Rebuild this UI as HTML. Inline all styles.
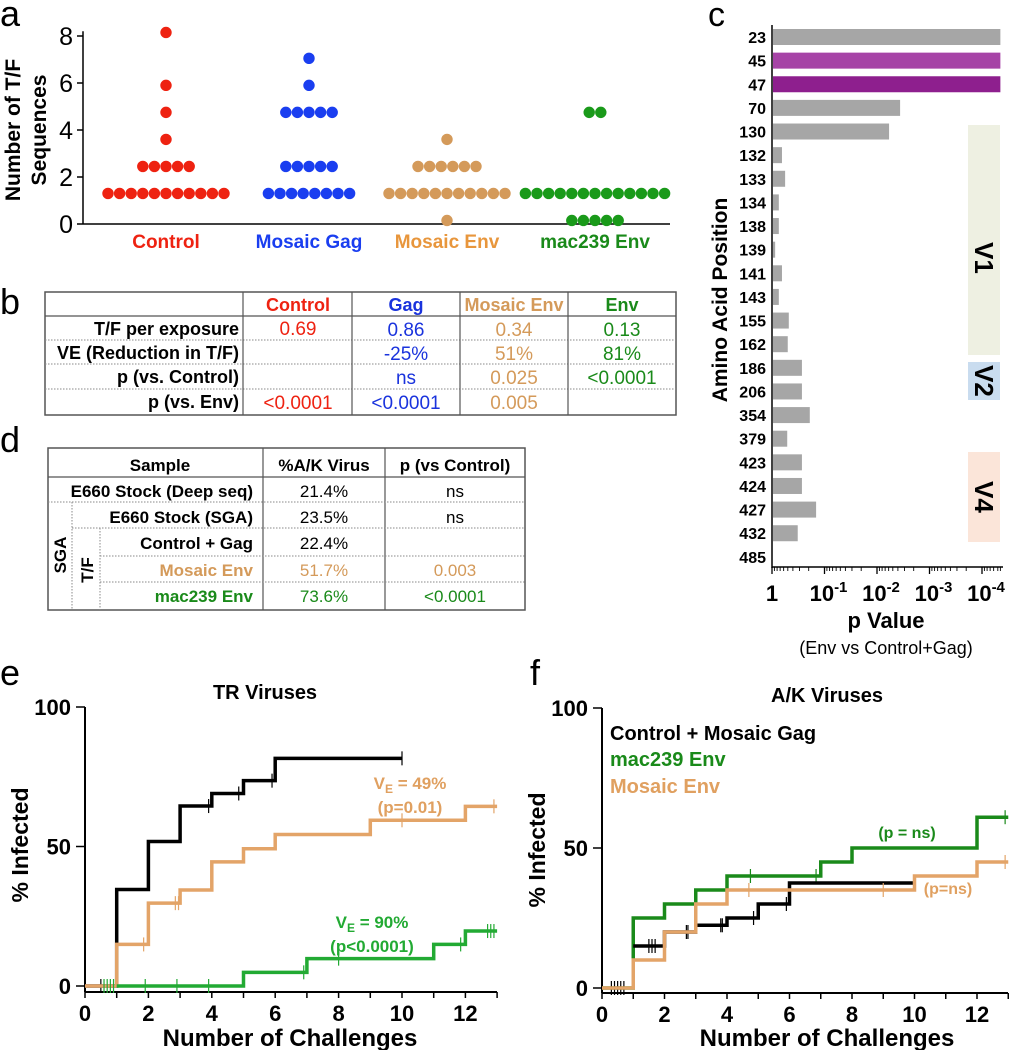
<!DOCTYPE html>
<html><head><meta charset="utf-8">
<style>
html,body{margin:0;padding:0;background:#fff;}
svg{display:block;font-family:"Liberation Sans",Arial,sans-serif;}
.b{font-weight:bold;}
.nar{font-family:"Liberation Sans Narrow","Liberation Sans",sans-serif;}
</style></head>
<body>
<svg id="fig" width="1010" height="1050" viewBox="0 0 1010 1050" xmlns="http://www.w3.org/2000/svg">
<rect width="1010" height="1050" fill="#fff"/>
<text x="0" y="26" font-size="36">a</text>
<text x="0" y="314" font-size="36">b</text>
<text x="708" y="26" font-size="34">c</text>
<text x="0" y="452" font-size="36">d</text>
<text x="0" y="685" font-size="36">e</text>
<text x="530" y="685" font-size="36">f</text>

<g id="pa">
<text transform="translate(20,130) rotate(-90)" text-anchor="middle" font-size="21" class="b">Number of T/F</text>
<text transform="translate(46,130) rotate(-90)" text-anchor="middle" font-size="21" class="b">Sequences</text>
</g>

<g>
<rect x="45" y="292" width="631" height="123" fill="none" stroke="#555" stroke-width="1.5"/>
<line x1="45" y1="316" x2="676" y2="316" stroke="#555" stroke-width="1.2"/>
<g stroke="#888" stroke-width="1" stroke-dasharray="1.5,1.5">
<line x1="45" y1="340" x2="676" y2="340"/><line x1="45" y1="364" x2="676" y2="364"/><line x1="45" y1="389" x2="676" y2="389"/>
</g>
<g stroke="#555" stroke-width="1.2">
<line x1="243" y1="292" x2="243" y2="415"/><line x1="352" y1="292" x2="352" y2="415"/><line x1="460" y1="292" x2="460" y2="415"/><line x1="568" y1="292" x2="568" y2="415"/>
</g>
<g class="b nar" text-anchor="middle" font-size="18">
<text x="298" y="311" fill="#ee2211">Control</text>
<text x="406" y="311" fill="#1a33dd">Gag</text>
<text x="514" y="311" fill="#d49a5a">Mosaic Env</text>
<text x="622" y="311" fill="#1a8a1a">Env</text>
</g>
<g class="b nar" text-anchor="end" font-size="18">
<text x="239" y="335">T/F per exposure</text>
<text x="239" y="359">VE (Reduction in T/F)</text>
<text x="239" y="383">p (vs. Control)</text>
<text x="239" y="408">p (vs. Env)</text>
</g>
<g class="nar" text-anchor="middle" font-size="19">
<text x="298" y="335" fill="#ee2211">0.69</text><text x="406" y="336" fill="#1a33dd">0.86</text><text x="514" y="336" fill="#d49a5a">0.34</text><text x="622" y="336" fill="#1a8a1a">0.13</text>
<text x="406" y="360" fill="#1a33dd">-25%</text><text x="514" y="360" fill="#d49a5a">51%</text><text x="622" y="360" fill="#1a8a1a">81%</text>
<text x="406" y="384" fill="#1a33dd">ns</text><text x="514" y="384" fill="#d49a5a">0.025</text><text x="622" y="384" fill="#1a8a1a">&lt;0.0001</text>
<text x="298" y="409" fill="#ee2211">&lt;0.0001</text><text x="406" y="409" fill="#1a33dd">&lt;0.0001</text><text x="514" y="409" fill="#d49a5a">0.005</text>
</g>
</g>

<g>
<rect x="48" y="448" width="477" height="162" fill="none" stroke="#555" stroke-width="1.5"/>
<line x1="48" y1="477" x2="525" y2="477" stroke="#555" stroke-width="1.2"/>
<line x1="263" y1="448" x2="263" y2="610" stroke="#555" stroke-width="1.2"/>
<line x1="385" y1="448" x2="385" y2="610" stroke="#555" stroke-width="1.2"/>
<g stroke="#888" stroke-width="1" stroke-dasharray="1.5,1.5">
<line x1="48" y1="502" x2="525" y2="502"/><line x1="72" y1="528" x2="525" y2="528"/><line x1="100" y1="556" x2="525" y2="556"/><line x1="100" y1="582" x2="525" y2="582"/>
<line x1="72" y1="502" x2="72" y2="610"/><line x1="100" y1="528" x2="100" y2="610"/>
</g>
<g class="b" font-size="17">
<text x="160" y="471" text-anchor="middle">Sample</text>
<text x="324" y="471" text-anchor="middle">%A/K Virus</text>
<text x="455" y="471" text-anchor="middle">p (vs Control)</text>
<text x="253" y="497" text-anchor="end">E660 Stock (Deep seq)</text>
<text x="253" y="523" text-anchor="end">E660 Stock (SGA)</text>
<text x="253" y="549" text-anchor="end">Control + Gag</text>
<text x="253" y="576" text-anchor="end" fill="#d49a5a">Mosaic Env</text>
<text x="253" y="602" text-anchor="end" fill="#1a8a1a">mac239 Env</text>
<text transform="translate(66,555) rotate(-90)" text-anchor="middle">SGA</text>
<text transform="translate(93,570) rotate(-90)" text-anchor="middle">T/F</text>
</g>
<g font-size="17" text-anchor="middle">
<text x="324" y="497">21.4%</text><text x="455" y="497">ns</text>
<text x="324" y="523">23.5%</text><text x="455" y="523">ns</text>
<text x="324" y="549">22.4%</text>
<text x="324" y="576" fill="#d49a5a">51.7%</text><text x="455" y="576" fill="#d49a5a">0.003</text>
<text x="324" y="602" fill="#1a8a1a">73.6%</text><text x="455" y="602" fill="#1a8a1a">&lt;0.0001</text>
</g>
</g>

<g id="pc">
<rect x="968" y="125" width="32" height="230" fill="#eef0e2"/>
<rect x="968" y="362" width="32" height="38" fill="#c9dcef"/>
<rect x="968" y="452" width="32" height="90" fill="#fbe5d9"/>
<text transform="translate(975,258) rotate(90)" text-anchor="middle" font-size="26" class="b">V1</text>
<text transform="translate(975,381) rotate(90)" text-anchor="middle" font-size="26" class="b">V2</text>
<text transform="translate(975,497) rotate(90)" text-anchor="middle" font-size="26" class="b">V4</text>
<text transform="translate(727,300) rotate(-90)" text-anchor="middle" font-size="21" class="b">Amino Acid Position</text>
<text x="886" y="628" text-anchor="middle" font-size="22" class="b">p Value</text>
<text x="886" y="654" text-anchor="middle" font-size="18">(Env vs Control+Gag)</text>
</g>

<g>
<text x="265" y="699" text-anchor="middle" font-size="20" class="b">TR Viruses</text>
<text transform="translate(28,845) rotate(-90)" text-anchor="middle" font-size="23" class="b">% Infected</text>
<text x="290" y="1046" text-anchor="middle" font-size="24" class="b">Number of Challenges</text>
<text x="410" y="789" text-anchor="middle" font-size="17" class="b" fill="#e0a060">V<tspan font-size="12" dy="4">E</tspan><tspan dy="-4"> = 49%</tspan></text>
<text x="410" y="813" text-anchor="middle" font-size="17" class="b" fill="#e0a060">(p=0.01)</text>
<text x="372" y="928" text-anchor="middle" font-size="17" class="b" fill="#22aa33">V<tspan font-size="12" dy="4">E</tspan><tspan dy="-4"> = 90%</tspan></text>
<text x="372" y="952" text-anchor="middle" font-size="17" class="b" fill="#22aa33">(p&lt;0.0001)</text>
</g>
<g>
<text x="827" y="702" text-anchor="middle" font-size="20" class="b">A/K Viruses</text>
<text transform="translate(545,850) rotate(-90)" text-anchor="middle" font-size="23" class="b">% Infected</text>
<text x="827" y="1046" text-anchor="middle" font-size="24" class="b">Number of Challenges</text>
<text x="610" y="740" font-size="20" class="b" fill="#000">Control + Mosaic Gag</text>
<text x="610" y="766" font-size="20" class="b" fill="#1a8a1a">mac239 Env</text>
<text x="610" y="793" font-size="20" class="b" fill="#e0a060">Mosaic Env</text>
<text x="907" y="838" text-anchor="middle" font-size="16" class="b" fill="#1a8a1a">(p = ns)</text>
<text x="948" y="894" text-anchor="middle" font-size="16" class="b" fill="#e0a060">(p=ns)</text>
</g>
</svg>
<script>
const aGroups = ['Control','Mosaic Gag','Mosaic Env','mac239 Env'];
const aControl = [1.3,1.3,1.3,1.3,1.3,1.3,1.3,1.3,1.3,1.3,1.3,2.45,2.45,2.45,2.45,2.45,3.6,4.75,5.9,8.15];
const aGag = [1.3,1.3,1.3,1.3,1.3,1.3,1.3,1.3,2.45,2.45,2.45,2.45,2.45,4.75,4.75,4.75,4.75,4.75,5.9,7.05];
const aMosEnv = [0.15,1.3,1.3,1.3,1.3,1.3,1.3,1.3,1.3,1.3,1.3,1.3,2.45,2.45,2.45,2.45,2.45,2.45,3.6];
const aMacEnv = [0.15,0.15,0.15,0.15,0.15,1.3,1.3,1.3,1.3,1.3,1.3,1.3,1.3,1.3,1.3,1.3,1.3,1.3,4.75,4.75];
const aTicks = [0,2,4,6,8];
const cPositions = ['23','45','47','70','130','132','133','134','138','139','141','143','155','162','186','206','354','379','423','424','427','432','485'];
const cNegLogP = [4.35,4.35,4.35,2.44,2.23,0.19,0.25,0.13,0.13,0.06,0.19,0.13,0.32,0.30,0.57,0.57,0.72,0.29,0.57,0.57,0.84,0.49,0];
const cTickLabels = ['1','10','10','10','10'];
const cTickExp = ['','-1','-2','-3','-4'];
const eBlackX = [0,1,2,3,4,5,6,10];
const eBlackY = [0,34.6,51.8,64.5,69,73.6,81.6,81.6];
const eOrangeX = [0,1,2,3,4,5,6,9,12,13];
const eOrangeY = [0,14.9,29.7,34.4,44.5,49.2,54.3,59.4,64.4,64.4];
const eGreenX = [1,5,7,11,12,13];
const eGreenY = [0,4.9,9.8,14.9,19.7,19.7];
const eBlackCens = [0.5,3.9,4.85,5.9,10];
const eOrangeCens = [1.85,2.85,2.95,10,12.9];
const eGreenCens = [0.6,0.7,0.8,0.9,1.9,2.9,3.9,6.9,8,11.85,12.7,12.8,12.9];
const fGreenX = [0,1,2,3,4,7,8,12,13];
const fGreenY = [0,25,30,35,40,45,50,61,61];
const fBlackX = [1,2,3,4,5,6,10];
const fBlackY = [15,20,22.4,25,30,37.5,37.5];
const fOrangeX = [0,1,2,3,4,10,12,13];
const fOrangeY = [0,10,20,30,35,40,45,45];
const fBlackCens = [0.3,0.4,0.5,0.6,0.7,1.5,1.6,1.7,2.7,2.75,3.8,3.85,4.85,5.9];
const fGreenCens = [4.75,6.85,12.9];
const fOrangeCens = [4.7,9,12.9];
const xTicksKM = [0,2,4,6,8,10,12];
const yTicksKM = [0,50,100];

const NS='http://www.w3.org/2000/svg';
const svg=document.getElementById('fig');
function mk(tag, attrs, parent){const e=document.createElementNS(NS,tag);for(const k in attrs)e.setAttribute(k,attrs[k]);(parent||svg).appendChild(e);return e;}

const pa=document.getElementById('pa');
const ya=v=>224-v*23.5;
const aCenters=[166,309,447,595];
const aColors=['#ee2211','#1a3ef0','#d49a5a','#1a9a1a'];
const aLabelColors=['#ee2211','#1a3ef0','#e8963c','#1a8a1a'];
let ax=mk('line',{x1:83,y1:ya(8.2),x2:83,y2:224,stroke:'#000','stroke-width':1.5},pa);


let xa=mk('line',{x1:83,y1:224,x2:670,y2:224,stroke:'#000','stroke-width':1.5},pa);


aTicks.forEach(t=>{
  mk('line',{x1:77,y1:ya(t),x2:83,y2:ya(t),stroke:'#000','stroke-width':1.5},pa);
  const tl=mk('text',{x:73,y:ya(t)+9,'text-anchor':'end','font-size':25},pa);
  tl.textContent=t;
  
  
});
[aControl,aGag,aMosEnv,aMacEnv].forEach((vals,gi)=>{
  const counts={};
  vals.forEach(v=>{counts[v]=(counts[v]||0)+1;});
  const idx={};
  vals.forEach(v=>{
    idx[v]=(idx[v]||0);
    const n=counts[v], i=idx[v]++;
    const c=mk('circle',{cx:aCenters[gi]+(i-(n-1)/2)*11.6,cy:ya(v),r:5.7,fill:aColors[gi]},pa);
    
    
  });
  const lb=mk('text',{x:aCenters[gi],y:248,'text-anchor':'middle','font-size':19,'font-weight':'bold',fill:aLabelColors[gi]},pa);
  lb.textContent=aGroups[gi];
  
  
});

const pc=document.getElementById('pc');
const xc=v=>772+Math.min(v,4.35)*52.5;
const yc=i=>37+i*23.63;
cPositions.forEach((p,i)=>{
  const col = p==='45' ? '#a643a6' : (p==='47' ? '#8e1f8e' : '#a6a6a6');
  if(cNegLogP[i]>0){
    const r=mk('rect',{x:773,y:yc(i)-8,width:xc(cNegLogP[i])-773,height:16,fill:col},pc);
    
    
  }
  const t=mk('text',{x:766,y:yc(i)+6,'text-anchor':'end','font-size':16,'font-weight':'bold'},pc);
  t.textContent=p;
  
  
});
let cy=mk('line',{x1:772,y1:25,x2:772,y2:568,stroke:'#000','stroke-width':1.5},pc);


let cx=mk('line',{x1:772,y1:567,x2:1003,y2:567,stroke:'#000','stroke-width':1.5},pc);


for(let d=0;d<5;d++){
  mk('line',{x1:xc(d),y1:567,x2:xc(d),y2:574,stroke:'#000','stroke-width':1.3},pc);
  for(let k=9;k>=2;k--){const v=d+1-Math.log10(k); if(v<=4.4) mk('line',{x1:xc(v),y1:567,x2:xc(v),y2:571,stroke:'#000','stroke-width':0.9},pc);}
  const t=mk('text',{x:xc(d)+(d?4:0),y:601,'text-anchor':'middle','font-size':22,'font-weight':'bold'},pc);
  t.textContent=cTickLabels[d];
  if(cTickExp[d]){const s=mk('tspan',{'font-size':15,dy:-9},t);s.textContent=cTickExp[d];}
  
  
}

function kmAxes(x0,xScale,y0,yScale,axisY,xEnd,name){
  const g=mk('g',{});
  
  
  mk('line',{x1:x0,y1:y0-100*yScale,x2:x0,y2:axisY,stroke:'#000','stroke-width':2},g);
  mk('line',{x1:x0,y1:axisY,x2:xEnd,y2:axisY,stroke:'#000','stroke-width':2},g);
  for(let i=0;i<=13;i++) mk('line',{x1:x0+i*xScale,y1:axisY,x2:x0+i*xScale,y2:axisY+6,stroke:'#000','stroke-width':1.5},g);
  xTicksKM.forEach(t=>{
    const l=mk('text',{x:x0+t*xScale,y:axisY+29,'text-anchor':'middle','font-size':22,'font-weight':'bold'},g);
    l.textContent=t;
    
    
  });
  yTicksKM.forEach(t=>{
    mk('line',{x1:x0-9,y1:y0-t*yScale,x2:x0,y2:y0-t*yScale,stroke:'#000','stroke-width':1.5},g);
    const l=mk('text',{x:x0-14,y:y0-t*yScale+8,'text-anchor':'end','font-size':22,'font-weight':'bold'},g);
    l.textContent=t;
    
    
  });
}
function stepPath(X,Y,fx,fy){
  let d='M'+fx(X[0])+','+fy(Y[0]);
  for(let i=1;i<X.length;i++){d+=' H'+fx(X[i])+' V'+fy(Y[i]);}
  return d;
}
function valAt(X,Y,x){let v=0;for(let i=0;i<X.length;i++){if(X[i]<=x)v=Y[i];}return v;}
function series(X,Y,cens,fx,fy,color,name){
  const p=mk('path',{d:stepPath(X,Y,fx,fy),fill:'none',stroke:color,'stroke-width':3.5});
  
  
  cens.forEach(c=>{
    const v=valAt(X,Y,c);
    const t=mk('line',{x1:fx(c),y1:fy(v)-7,x2:fx(c),y2:fy(v)+7,stroke:color,'stroke-width':1.2});
    
    
  });
}
const xe=v=>85+v*31.7, ye=v=>986-v*2.79;
kmAxes(85,31.7,986,2.79,992,497,'e');
series(eBlackX,eBlackY,eBlackCens,xe,ye,'#000','e-control');
series(eOrangeX,eOrangeY,eOrangeCens,xe,ye,'#e3a468','e-mosaic-env');
series(eGreenX,eGreenY,eGreenCens,xe,ye,'#22aa33','e-mac239-env');
const xf=v=>602+v*31.25, yf=v=>988-v*2.8;
kmAxes(602,31.25,988,2.8,993,1008,'f');
series(fGreenX,fGreenY,fGreenCens,xf,yf,'#1a8a1a','f-mac239-env');
series(fBlackX,fBlackY,fBlackCens,xf,yf,'#000','f-control-gag');
series(fOrangeX,fOrangeY,fOrangeCens,xf,yf,'#e3a468','f-mosaic-env');
</script>
</body></html>
